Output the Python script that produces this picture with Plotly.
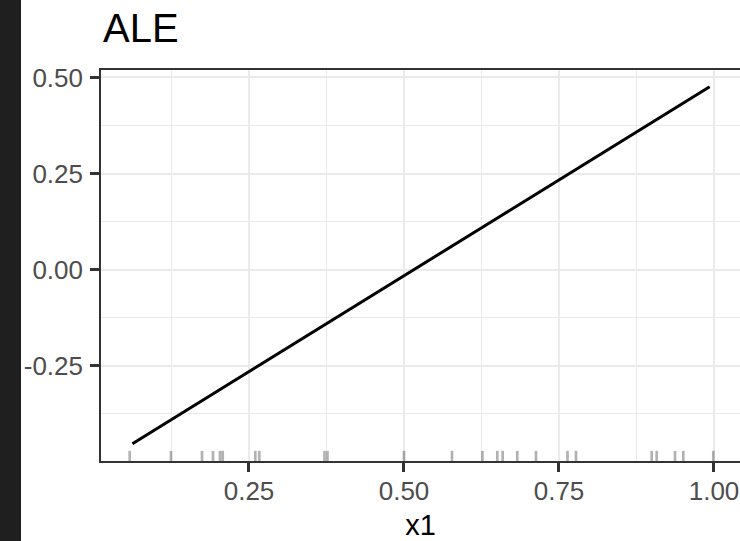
import plotly.graph_objects as go

# Accumulated local effect curve for feature x1
ale_x = [0.062, 0.993]
ale_y = [-0.453, 0.476]

# Observed x1 values shown as a rug along the bottom
rug_x = [0.0576, 0.1242, 0.1742, 0.1919, 0.2032, 0.2076, 0.2602, 0.2666,
         0.3718, 0.3766, 0.5, 0.5774, 0.6265, 0.6505, 0.6591, 0.6827,
         0.7129, 0.7637, 0.7774, 0.8995, 0.9076, 0.9371, 0.9505, 0.9989]

x_ticks = [0.25, 0.50, 0.75, 1.00]
x_ticklabels = ["0.25", "0.50", "0.75", "1.00"]
y_ticks = [0.50, 0.25, 0.00, -0.25]
y_ticklabels = ["0.50", "0.25", "0.00", "-0.25"]

W, H = 740, 541
L, R, T, B = 101, 0, 70, 80
pw, ph = W - L - R, H - T - B

FONT = "Liberation Sans, Arial, sans-serif"
GRID = "#ebebeb"
AXIS = "#333333"

fig = go.Figure()

fig.add_trace(go.Scatter(
    x=ale_x, y=ale_y, mode="lines",
    line=dict(color="black", width=3),
    showlegend=False, hoverinfo="skip",
))

shapes = []
for v in rug_x:
    shapes.append(dict(
        type="line", xref="x", yref="y domain",
        x0=v, x1=v, y0=0.0, y1=0.026,
        line=dict(color="rgba(0,0,0,0.3)", width=2.7),
        layer="above",
    ))

# dark strip along the left edge of the page
shapes.append(dict(
    type="rect", xref="paper", yref="paper",
    x0=-L / pw, x1=(21 - L) / pw,
    y0=-B / ph, y1=1 + T / ph,
    fillcolor="#1f1f1f", line=dict(width=0), layer="above",
))

fig.update_layout(
    width=W, height=H,
    margin=dict(l=L, r=R, t=T, b=B, pad=0),
    paper_bgcolor="white", plot_bgcolor="white",
    font=dict(family=FONT),
    shapes=shapes,
    annotations=[dict(
        text="ALE", xref="paper", yref="paper",
        x=0, y=1 + (T - 28) / ph, xanchor="left", yanchor="middle",
        showarrow=False, font=dict(size=40, color="black", family=FONT),
    )],
    xaxis=dict(
        range=[0.0113, 0.0113 + pw / 620.0],
        tickvals=x_ticks, ticktext=x_ticklabels,
        tickfont=dict(size=26, color="#4d4d4d"),
        ticks="outside", ticklen=9, tickwidth=2.5, tickcolor=AXIS,
        ticklabelstandoff=-3,
        showline=True, linecolor=AXIS, linewidth=1.6, mirror=True,
        showgrid=True, gridcolor=GRID, gridwidth=2,
        minor=dict(tick0=0.125, dtick=0.25, showgrid=True,
                   gridcolor=GRID, gridwidth=1.3, ticks=""),
        zeroline=False,
        title=dict(text="x1", font=dict(size=29, color="black"), standoff=11),
    ),
    yaxis=dict(
        range=[-0.498, 0.5195],
        tickvals=y_ticks, ticktext=y_ticklabels,
        tickfont=dict(size=26, color="#4d4d4d"),
        ticks="outside", ticklen=9, tickwidth=2.5, tickcolor=AXIS,
        ticklabelstandoff=2,
        showline=True, linecolor=AXIS, linewidth=1.6, mirror=False,
        showgrid=True, gridcolor=GRID, gridwidth=2,
        minor=dict(tick0=0.125, dtick=0.25, showgrid=True,
                   gridcolor=GRID, gridwidth=1.3, ticks=""),
        zeroline=False,
    ),
)

fig.write_html("out.html")
